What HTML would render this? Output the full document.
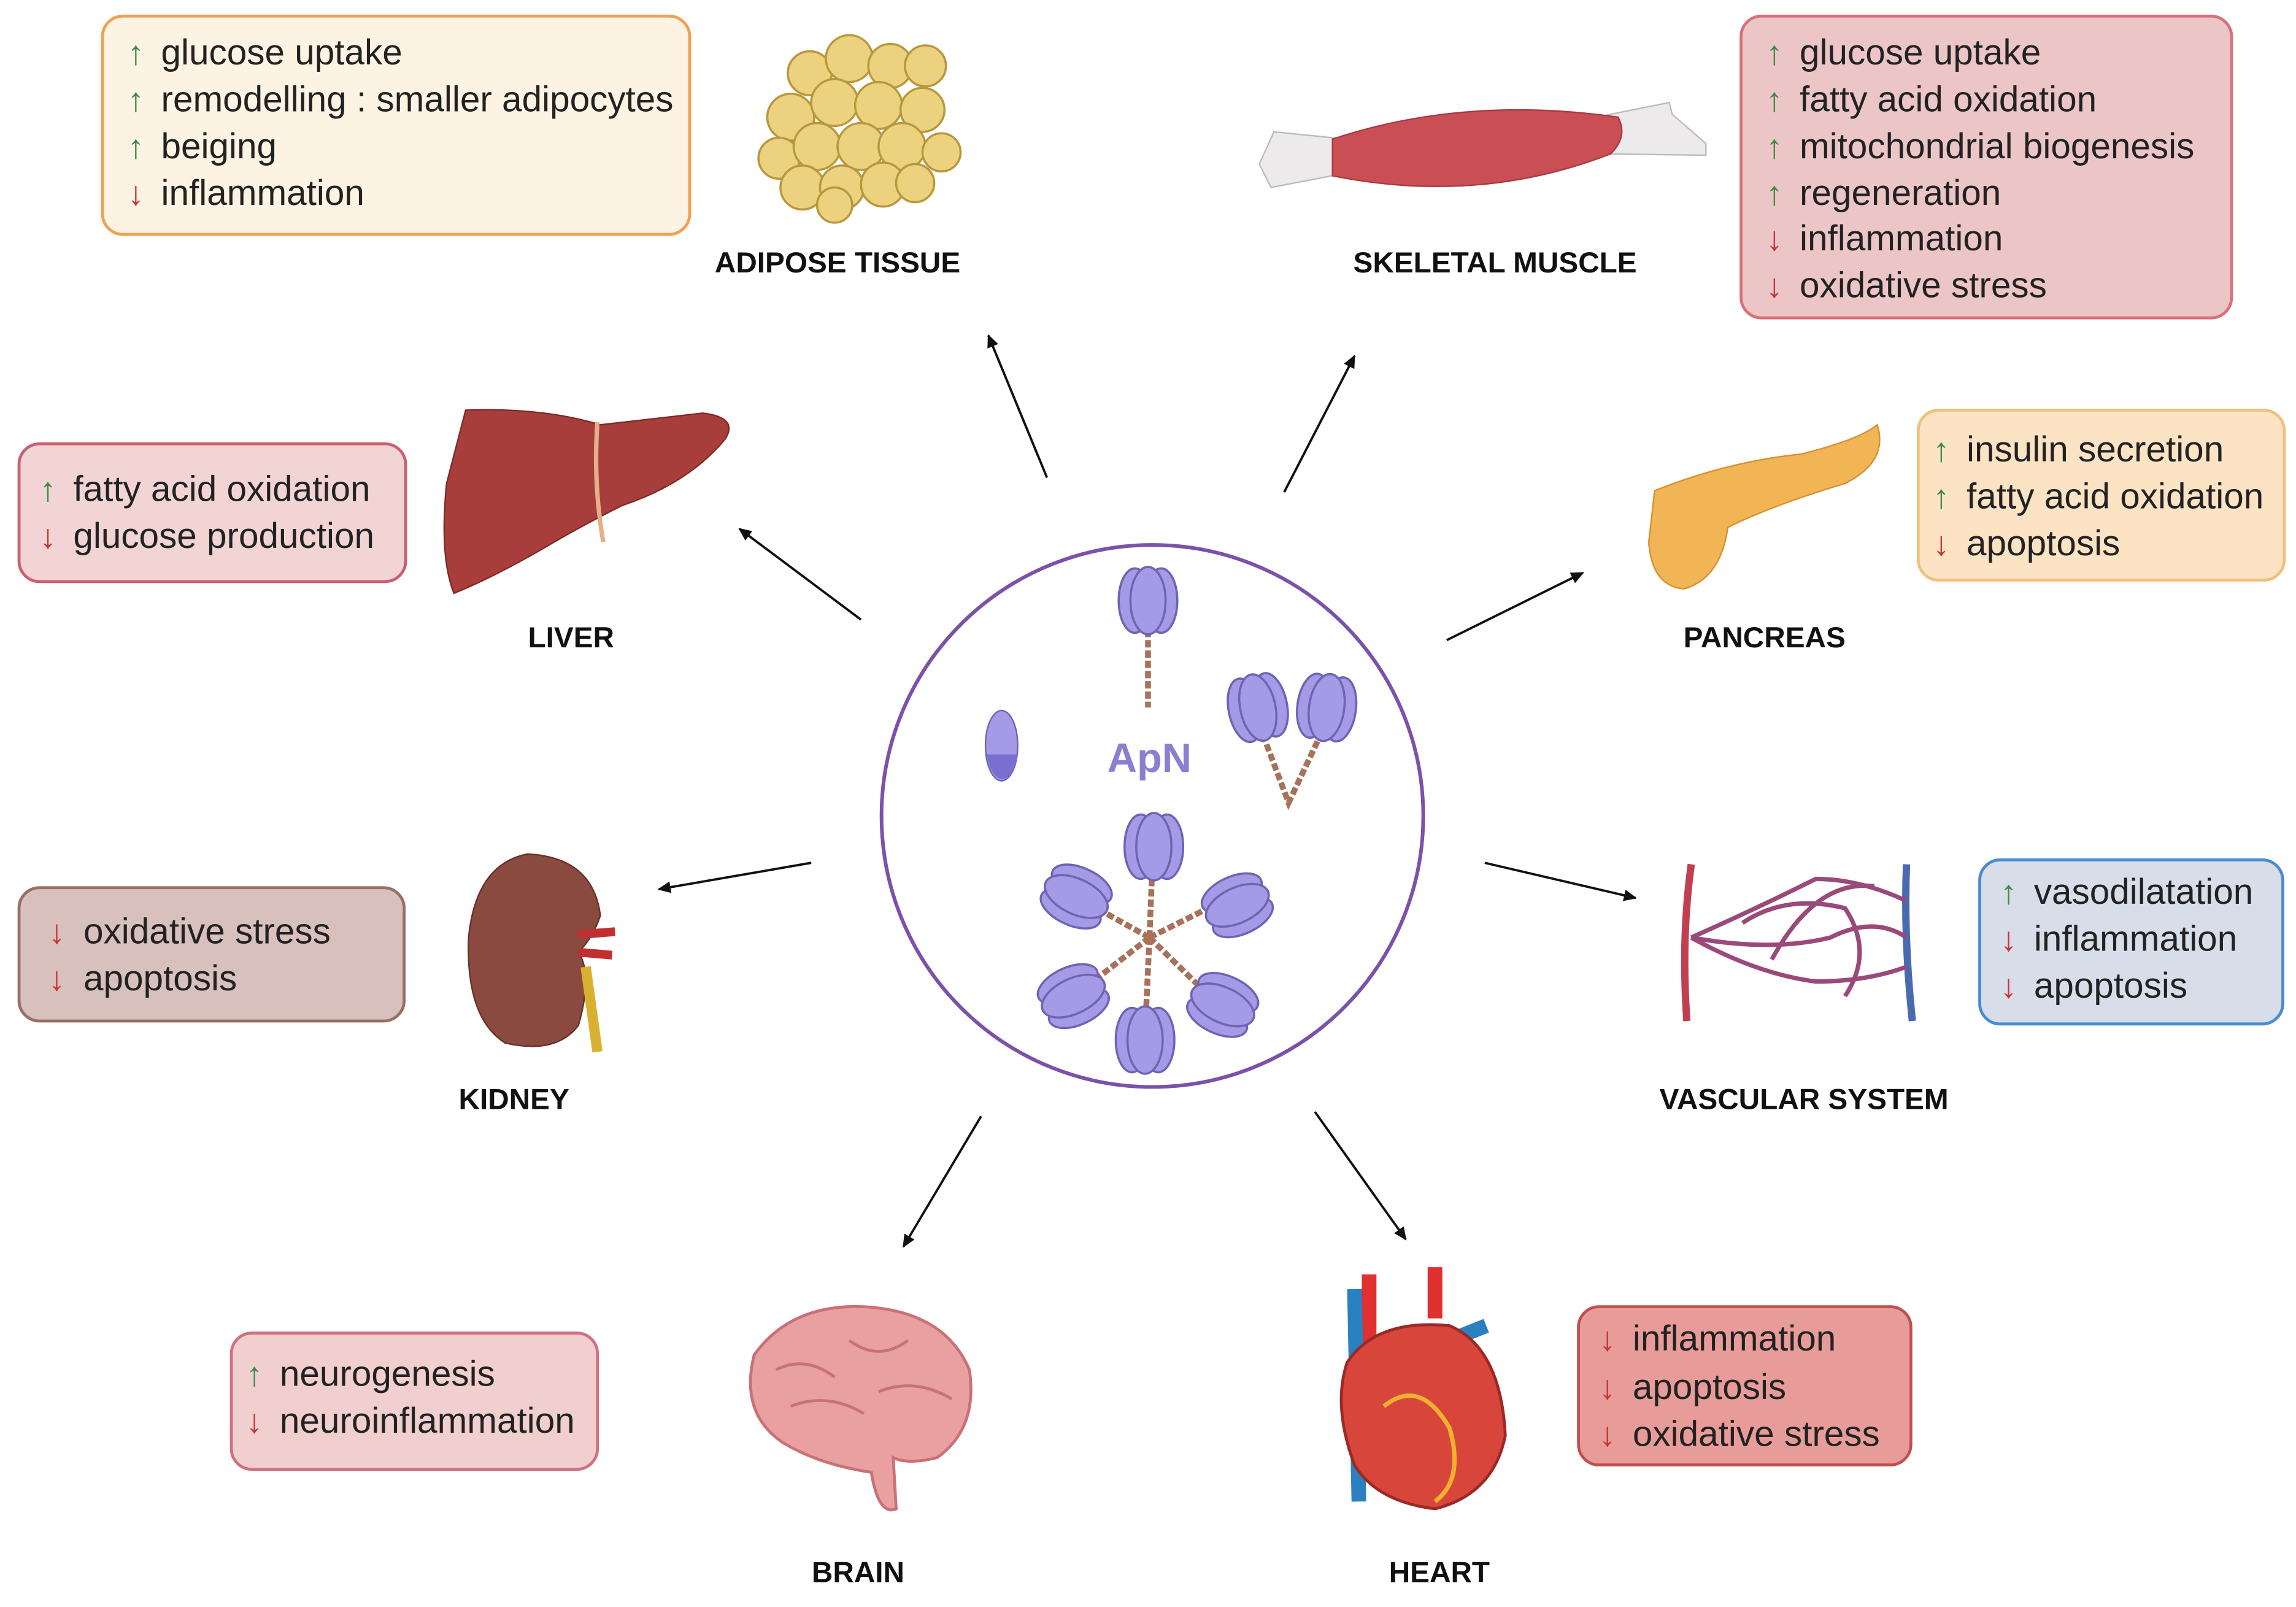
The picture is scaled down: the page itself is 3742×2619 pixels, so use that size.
<!DOCTYPE html>
<html><head><meta charset="utf-8"><style>
html,body{margin:0;padding:0;background:#fff;}
svg{display:block;}
text{font-family:"Liberation Sans",sans-serif;}
.t{font-size:24.5px;fill:#222;}
.l{font-size:20px;font-weight:bold;fill:#111;}
.u{fill:#3f8a4a;font-size:23px;}
.d{fill:#cc3333;font-size:23px;}
.ar{stroke:#111;stroke-width:1.6;fill:none;marker-end:url(#ah);}
.p{fill:#a49ae6;stroke:#6e64b4;stroke-width:1.5;}
.st{stroke:#a8725a;stroke-width:4;fill:none;stroke-dasharray:5 2;}
</style></head><body>
<svg width="3742" height="2619" viewBox="0 0 1568 1097" preserveAspectRatio="none" xmlns="http://www.w3.org/2000/svg">
<defs>
<marker id="ah" markerWidth="10" markerHeight="10" refX="8" refY="5" orient="auto" markerUnits="userSpaceOnUse"><path d="M0,1 L9,5 L0,9 Z" fill="#111"/></marker>
<g id="pr"><ellipse cx="-9" cy="0" rx="11" ry="22" class="p"/><ellipse cx="9" cy="0" rx="11" ry="22" class="p"/><ellipse cx="0" cy="0" rx="12" ry="23" class="p"/></g>
</defs>
<rect width="1568" height="1097" fill="#fff"/>

<rect x="70" y="11" width="401" height="149" rx="14" fill="#fdf3e3" stroke="#f0a050" stroke-width="2"/>
<rect x="1189" y="11" width="335" height="206" rx="14" fill="#ecc5c6" stroke="#d9707a" stroke-width="2"/>
<rect x="13" y="303" width="264" height="94" rx="14" fill="#f2d4d4" stroke="#c96070" stroke-width="2"/>
<rect x="1310" y="280" width="250" height="116" rx="14" fill="#fbe3c4" stroke="#f0c080" stroke-width="2"/>
<rect x="13" y="606" width="263" height="91" rx="14" fill="#d8c0bc" stroke="#9a6d66" stroke-width="2"/>
<rect x="1352" y="587" width="207" height="112" rx="14" fill="#d7dde9" stroke="#4a8ad0" stroke-width="2"/>
<rect x="158" y="910" width="250" height="93" rx="14" fill="#f1cfcf" stroke="#d07080" stroke-width="2"/>
<rect x="1078" y="892" width="227" height="108" rx="14" fill="#e89c9a" stroke="#c05050" stroke-width="2"/>

<g>
<text x="87" y="44" class="u">↑</text><text x="110" y="44" class="t">glucose uptake</text>
<text x="87" y="76" class="u">↑</text><text x="110" y="76" class="t">remodelling : smaller adipocytes</text>
<text x="87" y="108" class="u">↑</text><text x="110" y="108" class="t">beiging</text>
<text x="87" y="140" class="d">↓</text><text x="110" y="140" class="t">inflammation</text>

<text x="1206" y="44" class="u">↑</text><text x="1229" y="44" class="t">glucose uptake</text>
<text x="1206" y="76" class="u">↑</text><text x="1229" y="76" class="t">fatty acid oxidation</text>
<text x="1206" y="108" class="u">↑</text><text x="1229" y="108" class="t">mitochondrial biogenesis</text>
<text x="1206" y="140" class="u">↑</text><text x="1229" y="140" class="t">regeneration</text>
<text x="1206" y="171" class="d">↓</text><text x="1229" y="171" class="t">inflammation</text>
<text x="1206" y="203" class="d">↓</text><text x="1229" y="203" class="t">oxidative stress</text>

<text x="27" y="342" class="u">↑</text><text x="50" y="342" class="t">fatty acid oxidation</text>
<text x="27" y="374" class="d">↓</text><text x="50" y="374" class="t">glucose production</text>

<text x="1320" y="315" class="u">↑</text><text x="1343" y="315" class="t">insulin secretion</text>
<text x="1320" y="347" class="u">↑</text><text x="1343" y="347" class="t">fatty acid oxidation</text>
<text x="1320" y="379" class="d">↓</text><text x="1343" y="379" class="t">apoptosis</text>

<text x="33" y="644" class="d">↓</text><text x="57" y="644" class="t">oxidative stress</text>
<text x="33" y="676" class="d">↓</text><text x="57" y="676" class="t">apoptosis</text>

<text x="1366" y="617" class="u">↑</text><text x="1389" y="617" class="t">vasodilatation</text>
<text x="1366" y="649" class="d">↓</text><text x="1389" y="649" class="t">inflammation</text>
<text x="1366" y="681" class="d">↓</text><text x="1389" y="681" class="t">apoptosis</text>

<text x="168" y="946" class="u">↑</text><text x="191" y="946" class="t">neurogenesis</text>
<text x="168" y="978" class="d">↓</text><text x="191" y="978" class="t">neuroinflammation</text>

<text x="1092" y="922" class="d">↓</text><text x="1115" y="922" class="t">inflammation</text>
<text x="1092" y="955" class="d">↓</text><text x="1115" y="955" class="t">apoptosis</text>
<text x="1092" y="987" class="d">↓</text><text x="1115" y="987" class="t">oxidative stress</text>
</g>

<g text-anchor="middle">
<text x="572" y="186" class="l">ADIPOSE TISSUE</text>
<text x="1021" y="186" class="l">SKELETAL MUSCLE</text>
<text x="390" y="442" class="l">LIVER</text>
<text x="1205" y="442" class="l">PANCREAS</text>
<text x="351" y="757" class="l">KIDNEY</text>
<text x="1232" y="757" class="l">VASCULAR SYSTEM</text>
<text x="586" y="1080" class="l">BRAIN</text>
<text x="983" y="1080" class="l">HEART</text>
</g>

<line x1="715" y1="326" x2="675" y2="229" class="ar"/>
<line x1="877" y1="336" x2="925" y2="243" class="ar"/>
<line x1="588" y1="423" x2="505" y2="361" class="ar"/>
<line x1="988" y1="437" x2="1081" y2="391" class="ar"/>
<line x1="554" y1="589" x2="450" y2="607" class="ar"/>
<line x1="1014" y1="589" x2="1117" y2="613" class="ar"/>
<line x1="670" y1="762" x2="617" y2="851" class="ar"/>
<line x1="898" y1="759" x2="960" y2="846" class="ar"/>

<circle cx="787" cy="557" r="185" fill="#fff" stroke="#7b52a8" stroke-width="2.5"/>
<text x="785" y="527" text-anchor="middle" style="font-size:28px;font-weight:bold;fill:#8a7fd0">ApN</text>
<ellipse cx="684" cy="509" rx="11" ry="24" fill="#a49ae6" stroke="#6e64b4"/>
<path d="M674,515 A11,24 0 0 0 695,515 Z" fill="#7a6ed0"/>
<line x1="784" y1="430" x2="784" y2="483" class="st"/>
<use href="#pr" x="784" y="410"/>
<path d="M860,495 L880,548 L905,495" class="st"/>
<use href="#pr" x="859" y="483" transform="rotate(-12 859 483)"/>
<use href="#pr" x="906" y="483" transform="rotate(8 906 483)"/>
<g class="st">
<line x1="785" y1="640" x2="787" y2="590"/><line x1="785" y1="640" x2="835" y2="615"/>
<line x1="785" y1="640" x2="740" y2="615"/><line x1="785" y1="640" x2="740" y2="675"/>
<line x1="785" y1="640" x2="782" y2="705"/><line x1="785" y1="640" x2="828" y2="682"/>
</g>
<use href="#pr" x="788" y="578"/>
<use href="#pr" x="735" y="612" transform="rotate(-65 735 612)"/>
<use href="#pr" x="845" y="618" transform="rotate(65 845 618)"/>
<use href="#pr" x="733" y="680" transform="rotate(-115 733 680)"/>
<use href="#pr" x="782" y="710"/>
<use href="#pr" x="835" y="686" transform="rotate(115 835 686)"/>

<g fill="#ecd27f" stroke="#b8983e" stroke-width="1.5">
<circle cx="553" cy="50" r="15"/><circle cx="580" cy="40" r="16"/><circle cx="608" cy="45" r="15"/><circle cx="632" cy="45" r="14"/>
<circle cx="540" cy="80" r="16"/><circle cx="570" cy="70" r="16"/><circle cx="600" cy="72" r="16"/><circle cx="630" cy="75" r="15"/>
<circle cx="532" cy="108" r="14"/><circle cx="558" cy="100" r="16"/><circle cx="588" cy="100" r="16"/><circle cx="616" cy="100" r="16"/><circle cx="643" cy="104" r="13"/>
<circle cx="548" cy="128" r="15"/><circle cx="575" cy="128" r="15"/><circle cx="603" cy="126" r="15"/><circle cx="625" cy="125" r="13"/><circle cx="570" cy="140" r="12"/>
</g>
<path d="M860,112 L870,90 L920,95 L920,118 L868,128 Z" fill="#eceaea" stroke="#bbb"/>
<path d="M1090,80 L1140,70 L1142,78 L1165,98 L1165,106 L1095,105 Z" fill="#eceaea" stroke="#bbb"/>
<path d="M910,95 Q1000,65 1105,80 Q1112,93 1100,105 Q1010,140 910,120 Z" fill="#c94f55" stroke="#a83a40"/>
<path d="M318,280 Q370,278 410,290 L480,282 Q505,285 495,300 Q470,330 425,345 Q395,360 370,375 Q335,395 310,405 Q300,380 305,330 Z" fill="#a83e3c" stroke="#7e2a28"/>
<path d="M408,288 Q405,330 412,370" stroke="#e3b08a" stroke-width="3" fill="none"/>
<path d="M1130,335 Q1180,315 1230,310 Q1270,300 1282,290 Q1290,315 1260,330 Q1210,345 1180,360 Q1175,395 1150,402 Q1128,400 1126,370 Z" fill="#f2b556" stroke="#d69030"/>
<path d="M360,583 Q405,585 410,625 Q405,640 395,650 Q405,665 395,700 Q380,720 345,712 Q318,695 320,640 Q325,590 360,583 Z" fill="#8a4a3f" stroke="#6a3028"/>
<path d="M395,638 L420,636 M395,650 L418,652" stroke="#c03030" stroke-width="6"/>
<path d="M400,660 L408,718" stroke="#d9b030" stroke-width="7"/>
<path d="M1155,590 Q1148,640 1152,697" stroke="#c04050" stroke-width="5" fill="none"/>
<path d="M1302,590 Q1300,640 1306,697" stroke="#4a6ab0" stroke-width="5" fill="none"/>
<g stroke="#9a4a7a" stroke-width="3" fill="none">
<path d="M1155,640 Q1200,620 1240,600 Q1270,600 1302,615"/>
<path d="M1155,640 Q1210,650 1250,640 Q1280,625 1302,640"/>
<path d="M1155,640 Q1200,665 1240,670 Q1275,670 1302,660"/>
<path d="M1190,630 Q1220,610 1260,620 Q1280,650 1260,680"/>
<path d="M1210,655 Q1240,600 1280,605"/>
</g>
<path d="M515,925 Q540,890 590,892 Q645,895 662,935 Q668,975 640,995 Q620,1000 610,995 L612,1030 Q600,1035 595,1005 Q560,1000 535,985 Q505,965 515,925 Z" fill="#e9a0a0" stroke="#c97078" stroke-width="2"/>
<path d="M530,935 Q550,925 570,940 M580,915 Q600,930 620,915 M540,960 Q565,950 590,965 M600,950 Q625,940 650,955" stroke="#c97078" stroke-width="2" fill="none"/>
<path d="M935,870 L935,930 M980,865 L980,900" stroke="#e03030" stroke-width="10"/>
<path d="M925,880 L928,1025" stroke="#2a80c0" stroke-width="10"/>
<path d="M990,915 L1015,905" stroke="#2a80c0" stroke-width="10"/>
<path d="M920,930 Q940,900 990,905 Q1025,920 1028,980 Q1020,1020 980,1030 Q940,1025 925,1000 Q910,960 920,930 Z" fill="#d8453a" stroke="#9a2a25" stroke-width="2"/>
<path d="M945,960 Q970,940 990,975 Q1000,1010 980,1025" stroke="#f0b030" stroke-width="3" fill="none"/>
</svg>
</body></html>
